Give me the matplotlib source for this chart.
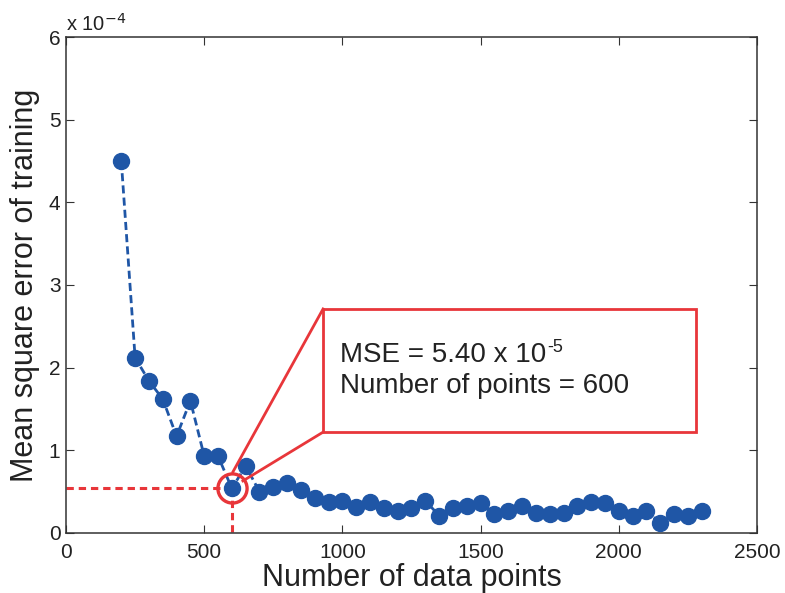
import numpy as np
import matplotlib.pyplot as plt
from matplotlib.patches import Rectangle

plt.rcParams['font.family'] = ['Liberation Sans', 'DejaVu Sans']

# training set size vs. training MSE (in units of 1e-4)
n_points = list(range(200, 2301, 50))
mse = [4.50, 2.12, 1.84, 1.62, 1.17, 1.60, 0.93, 0.93, 0.54, 0.81,
       0.50, 0.56, 0.60, 0.52, 0.42, 0.37, 0.39, 0.31, 0.37, 0.30,
       0.27, 0.30, 0.39, 0.21, 0.30, 0.33, 0.36, 0.23, 0.26, 0.33,
       0.24, 0.23, 0.24, 0.33, 0.375, 0.36, 0.26, 0.21, 0.27, 0.12,
       0.23, 0.20, 0.27]
best_n = 600
best_mse = 0.54

blue = '#1f56a6'
red = '#e8363a'
txt = '#222222'

fig = plt.figure(figsize=(7.85, 5.93), dpi=100)
ax = fig.add_axes([0.0841, 0.1012, 0.8802, 0.8364])

ax.plot(n_points, mse, linestyle='--', dashes=(2.9, 1.5), color=blue, lw=2,
        marker='o', markersize=11.5, markerfacecolor=blue, markeredgecolor=blue, zorder=3)

# guide lines to the chosen point
ax.plot([0, best_n], [best_mse, best_mse], linestyle='--', dashes=(2.4, 1.6),
        color=red, lw=2.2, zorder=2)
ax.plot([best_n, best_n], [best_mse, 0], linestyle='--', dashes=(2.4, 1.6),
        color=red, lw=2.2, zorder=2)
ax.plot([best_n], [best_mse], marker='o', markersize=21, markerfacecolor='none',
        markeredgecolor=red, markeredgewidth=2.4, zorder=4)

# callout box
bx0, bx1, by0, by1 = 930, 2279, 1.22, 2.71
ax.add_patch(Rectangle((bx0, by0), bx1 - bx0, by1 - by0, fill=False,
                       edgecolor=red, lw=2, zorder=5))
ax.plot([604, bx0], [0.74, by1], color=red, lw=2, zorder=5)
ax.plot([640, bx0], [0.63, by0], color=red, lw=2, zorder=5)
t1 = ax.text(991, 2.15, 'MSE = %.2f x 10' % (best_mse * 10), fontsize=20, color=txt,
             va='center', zorder=6)
ax.annotate('-5', xy=(1, 1), xycoords=t1, xytext=(1, -4), textcoords='offset points',
            fontsize=13, color=txt, ha='left', va='center', zorder=6)
ax.text(991, 1.78, 'Number of points = %d' % best_n, fontsize=20, color=txt,
        va='center', zorder=6)

ax.set_xlim(0, 2500)
ax.set_ylim(0, 6)
ax.set_xticks([0, 500, 1000, 1500, 2000, 2500])
ax.set_yticks([0, 1, 2, 3, 4, 5, 6])
ax.tick_params(direction='in', top=True, right=True, labelsize=15, length=6,
               color='#333333', labelcolor=txt)
ax.tick_params(axis='x', pad=7)
ax.tick_params(axis='y', pad=4)
for s in ax.spines.values():
    s.set_color('#333333')
    s.set_linewidth(1.1)

ax.set_xlabel('Number of data points', fontsize=22, color=txt, labelpad=1)
ax.set_ylabel('Mean square error of training', fontsize=22, color=txt, labelpad=6)
ax.text(0.0, 1.005, 'x 10$^{-4}$', transform=ax.transAxes, fontsize=14.5,
        color=txt, va='bottom', ha='left')

fig.savefig('out.png', dpi=100)
